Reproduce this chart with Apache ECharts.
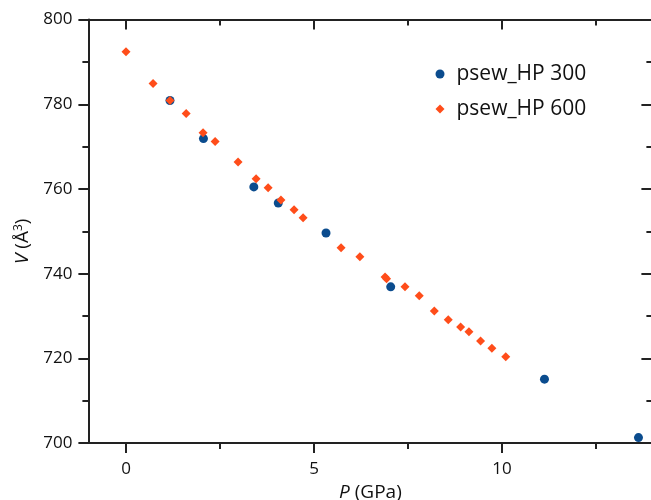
<!DOCTYPE html>
<html><head><meta charset="utf-8">
<script src="https://cdn.jsdelivr.net/npm/echarts@6/dist/echarts.min.js"></script>
<style>html,body{margin:0;padding:0;background:#fff}#c{width:651px;height:500px}</style>
</head><body><div id="c"></div>
<script>
const series300Name = 'psew_HP 300';
const series600Name = 'psew_HP 600';
const p300 = [1.17, 2.06, 3.40, 4.05, 5.32, 7.04, 11.13, 13.63];
const v300 = [780.9, 771.9, 760.5, 756.7, 749.6, 736.9, 715.1, 701.3];
const p600 = [0.00, 0.72, 1.17, 1.60, 2.05, 2.37, 2.98, 3.46, 3.78, 4.12, 4.47, 4.71, 5.72, 6.22, 6.89, 6.93, 7.42, 7.80, 8.20, 8.57, 8.90, 9.12, 9.43, 9.73, 10.10];
const v600 = [792.4, 784.9, 780.9, 777.8, 773.3, 771.2, 766.4, 762.4, 760.3, 757.4, 755.1, 753.2, 746.1, 744.0, 739.2, 738.8, 736.9, 734.8, 731.2, 729.1, 727.4, 726.3, 724.1, 722.4, 720.4];
const xMajorTicks = [0, 5, 10];
const xMinorTicks = [2.5, 7.5, 12.5];

const FONT = 'Open Sans';
const AX = '#222';
const chart = echarts.init(document.getElementById('c'), null, {renderer: 'canvas'});
const pairs = (xs, ys) => xs.map((x, i) => [x, ys[i]]);
const baseX = {type: 'value', min: -1, max: 14, splitLine: {show: false}};
chart.setOption({
  animation: false,
  textStyle: {fontFamily: FONT},
  grid: {left: 88.4, top: 19.6, width: 564, height: 423.5, containLabel: false, outerBoundsMode: 'none'},
  legend: {
    orient: 'vertical', left: 430.5, top: 57, itemWidth: 9, itemHeight: 9, itemGap: 11,
    textStyle: {fontFamily: FONT, fontSize: 21, color: '#111', lineHeight: 24, padding: [0, 0, 0, 7]},
    data: [{name: series300Name, icon: 'circle'}, {name: series600Name, icon: 'diamond'}]
  },
  xAxis: [
    Object.assign({}, baseX, {
      position: 'bottom',
      axisLine: {show: true, onZero: false, lineStyle: {color: AX, width: 2}},
      axisTick: {show: true, inside: false, length: 10, customValues: xMajorTicks, lineStyle: {color: AX, width: 2}},
      axisLabel: {show: true, customValues: xMajorTicks, fontSize: 17, color: '#111', margin: 18, fontFamily: FONT},
      name: '{i|P} (GPa)', nameLocation: 'middle', nameGap: 34,
      nameTextStyle: {fontSize: 19, color: '#111', fontFamily: FONT, rich: {i: {fontStyle: 'italic', fontSize: 19, fontFamily: FONT, color: '#111'}}}
    }),
    Object.assign({}, baseX, {
      position: 'bottom', axisLine: {show: false, onZero: false},
      axisTick: {show: true, inside: false, length: 6, customValues: xMinorTicks, lineStyle: {color: AX, width: 2}},
      axisLabel: {show: false}
    }),
    Object.assign({}, baseX, {
      position: 'top',
      axisLine: {show: true, onZero: false, lineStyle: {color: AX, width: 2}},
      axisTick: {show: true, inside: true, length: 10, customValues: xMajorTicks, lineStyle: {color: AX, width: 2}},
      axisLabel: {show: false}
    }),
    Object.assign({}, baseX, {
      position: 'top', axisLine: {show: false, onZero: false},
      axisTick: {show: true, inside: true, length: 6, customValues: xMinorTicks, lineStyle: {color: AX, width: 2}},
      axisLabel: {show: false}
    })
  ],
  yAxis: [
    {
      type: 'value', position: 'left', min: 700, max: 800, interval: 20,
      splitLine: {show: false},
      axisLine: {show: true, onZero: false, lineStyle: {color: AX, width: 2}},
      axisTick: {show: true, inside: false, length: 10, lineStyle: {color: AX, width: 2}},
      minorTick: {show: true, splitNumber: 2, length: 6, lineStyle: {color: AX, width: 2}},
      minorSplitLine: {show: false},
      axisLabel: {fontSize: 17, color: '#111', margin: 16, fontFamily: FONT},
      name: '{i|V} (Å{s|3})', nameLocation: 'middle', nameGap: 52, nameRotate: 90,
      nameTextStyle: {fontSize: 19, color: '#111', fontFamily: FONT, padding: [0, 20, 0, 0],
        rich: {i: {fontStyle: 'italic', fontSize: 19, fontFamily: FONT, color: '#111'},
               s: {fontSize: 12, verticalAlign: 'top', fontFamily: FONT, color: '#111', padding: [0, 0, 8, 0]}}}
    },
    {
      type: 'value', position: 'right', min: 700, max: 800, interval: 20,
      splitLine: {show: false},
      axisLine: {show: true, onZero: false, lineStyle: {color: AX, width: 2}},
      axisTick: {show: true, inside: true, length: 11, lineStyle: {color: AX, width: 2}},
      minorTick: {show: true, splitNumber: 2, length: 6, lineStyle: {color: AX, width: 2}},
      minorSplitLine: {show: false},
      axisLabel: {show: false}
    }
  ],
  series: [
    {name: series300Name, type: 'scatter', xAxisIndex: 0, yAxisIndex: 0, symbol: 'circle', symbolSize: 9,
     itemStyle: {color: '#0b4c8e', opacity: 1}, data: pairs(p300, v300)},
    {name: series600Name, type: 'scatter', xAxisIndex: 0, yAxisIndex: 0, symbol: 'diamond', symbolSize: 9,
     itemStyle: {color: '#ff4d1a', opacity: 1}, data: pairs(p600, v600)}
  ]
});
</script></body></html>
